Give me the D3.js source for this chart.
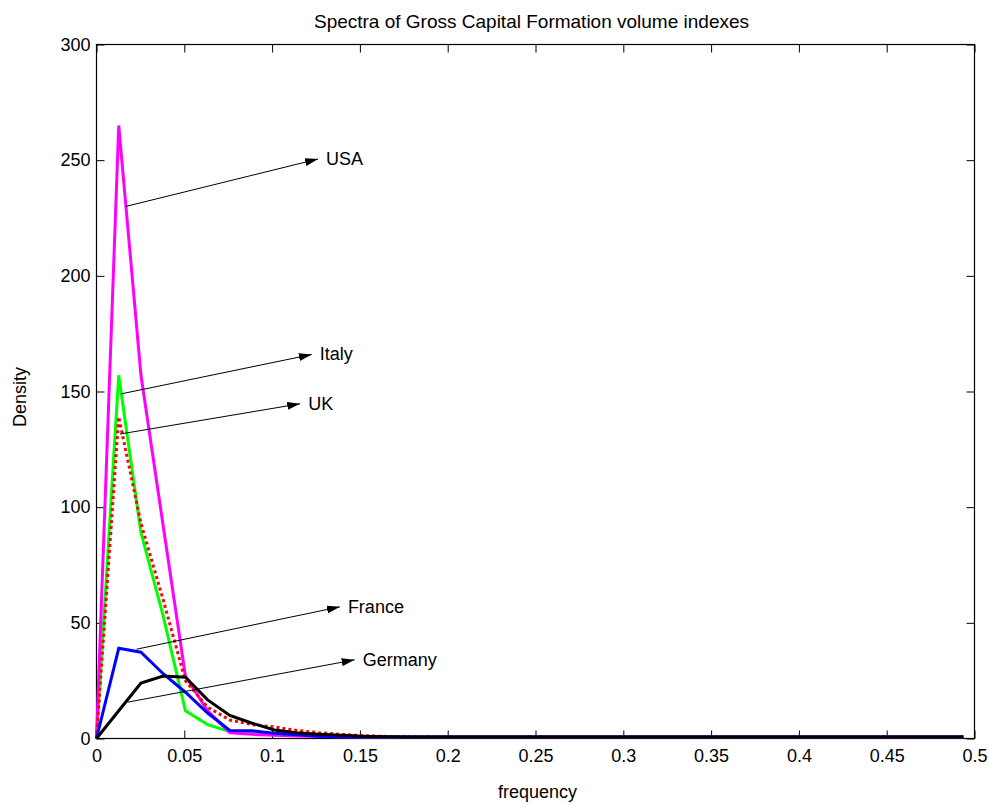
<!DOCTYPE html>
<meta charset="utf-8" />
<script src="https://d3js.org/d3.v7.min.js"></script>
<div id="chart"></div>
<script>
  // frequencies (k/79) and spectral densities
  const freq = [
    0, 0.01266, 0.02532, 0.03797, 0.05063, 0.06329, 0.07595, 0.08861, 0.10127, 0.11392,
    0.12658, 0.13924, 0.1519, 0.16456, 0.17722, 0.18987, 0.20253, 0.21519, 0.22785, 0.24051,
    0.25316, 0.26582, 0.27848, 0.29114, 0.3038, 0.31646, 0.32911, 0.34177, 0.35443, 0.36709,
    0.37975, 0.39241, 0.40506, 0.41772, 0.43038, 0.44304, 0.4557, 0.46835, 0.48101, 0.49367
  ];
  const usa = [
    0, 265, 157, 92, 27, 12, 2.5, 1.8, 1.4, 1.1,
    0.9, 0.8, 0.7, 0.7, 0.6, 0.6, 0.6, 0.6, 0.6, 0.6,
    0.6, 0.6, 0.6, 0.6, 0.6, 0.6, 0.6, 0.6, 0.6, 0.6,
    0.6, 0.6, 0.6, 0.6, 0.6, 0.6, 0.6, 0.6, 0.6, 0.6
  ];
  const italy = [
    0, 157, 89, 53, 12, 6, 3, 2.2, 1.8, 1.5,
    1.2, 1.0, 0.9, 0.8, 0.7, 0.7, 0.7, 0.7, 0.6, 0.6,
    0.6, 0.6, 0.6, 0.6, 0.6, 0.6, 0.6, 0.6, 0.6, 0.6,
    0.6, 0.6, 0.6, 0.6, 0.6, 0.6, 0.6, 0.6, 0.6, 0.6
  ];
  const uk = [
    0, 139, 93, 60, 25, 13.5, 8, 6, 5, 3.5,
    2.5, 1.8, 1.2, 0.9, 0.8, 0.7, 0.7, 0.7, 0.6, 0.6,
    0.6, 0.6, 0.6, 0.6, 0.6, 0.6, 0.6, 0.6, 0.6, 0.6,
    0.6, 0.6, 0.6, 0.6, 0.6, 0.6, 0.6, 0.6, 0.6, 0.6
  ];
  const france = [
    0, 39, 37.3, 28, 20, 11, 3.5, 3.3, 2.3, 1.6,
    1.0, 0.8, 0.7, 0.7, 0.7, 0.7, 0.7, 0.7, 0.7, 0.7,
    0.7, 0.7, 0.7, 0.7, 0.7, 0.7, 0.7, 0.7, 0.7, 0.7,
    0.7, 0.7, 0.7, 0.7, 0.7, 0.7, 0.7, 0.7, 0.7, 0.7
  ];
  const germany = [
    0, 12, 24, 27, 26.5, 16.7, 10, 6.6, 3.7, 2.5,
    1.8, 1.4, 1.0, 0.8, 0.7, 0.7, 0.7, 0.7, 0.7, 0.7,
    0.7, 0.7, 0.7, 0.7, 0.7, 0.7, 0.7, 0.7, 0.7, 0.7,
    0.7, 0.7, 0.7, 0.7, 0.7, 0.7, 0.7, 0.7, 0.7, 0.7
  ];

  const xTicks = [0, 0.05, 0.1, 0.15, 0.2, 0.25, 0.3, 0.35, 0.4, 0.45, 0.5];
  const xTickLabels = ["0", "0.05", "0.1", "0.15", "0.2", "0.25", "0.3", "0.35", "0.4", "0.45", "0.5"];
  const yTicks = [0, 50, 100, 150, 200, 250, 300];

  // annotation arrows: label, tail (x, y) and head (x, y) in data units
  const notes = [
    ["USA", 0.0167, 230, 0.1262, 250.5],
    ["Italy", 0.0142, 149, 0.1226, 166],
    ["UK", 0.0133, 131.6, 0.1160, 144.7],
    ["France", 0.0228, 38.6, 0.1386, 56.9],
    ["Germany", 0.0177, 15.7, 0.1470, 34]
  ];

  const W = 990, H = 803;
  const margin = { top: 44.5, right: 15.5, bottom: 64.5, left: 96.5 };
  const width = W - margin.left - margin.right,
    height = H - margin.top - margin.bottom;
  const font = "'Liberation Sans', Arial, sans-serif";

  const svg = d3
    .select("#chart")
    .append("svg")
    .attr("width", W)
    .attr("height", H)
    .style("background", "#fff")
    .style("font-family", font);

  const g = svg.append("g").attr("transform", `translate(${margin.left}, ${margin.top})`);

  const x = d3.scaleLinear().domain([0, 0.5]).range([0, width]);
  const y = d3.scaleLinear().domain([0, 300]).range([height, 0]);

  // axes (ticks pointing inward, box on all four sides)
  const styleAxis = (sel) => {
    sel.select(".domain").remove();
    sel.selectAll(".tick line").attr("stroke", "#000");
    sel.selectAll("text").attr("fill", "#000").style("font-size", "18px").style("font-family", font);
  };
  g.append("g")
    .attr("transform", `translate(0, ${height})`)
    .call(d3.axisBottom(x).tickValues(xTicks).tickSize(-8).tickPadding(11)
      .tickFormat((d, i) => xTickLabels[i]))
    .call(styleAxis);
  g.append("g")
    .call(d3.axisTop(x).tickValues(xTicks).tickSize(-8).tickFormat(""))
    .call(styleAxis);
  g.append("g")
    .call(d3.axisLeft(y).tickValues(yTicks).tickSize(-8).tickPadding(6))
    .call(styleAxis);
  g.append("g")
    .attr("transform", `translate(${width}, 0)`)
    .call(d3.axisRight(y).tickValues(yTicks).tickSize(-8).tickFormat(""))
    .call(styleAxis);
  g.append("rect")
    .attr("width", width)
    .attr("height", height)
    .attr("fill", "none")
    .attr("stroke", "#000")
    .attr("stroke-width", 1.2);

  // spectra
  const series = [
    { values: italy, color: "#00ff00", dash: null },
    { values: usa, color: "#ff00ff", dash: null },
    { values: uk, color: "#ff0000", dash: "3,3" },
    { values: france, color: "#0000ff", dash: null },
    { values: germany, color: "#000000", dash: null }
  ];
  const line = d3.line().x((d, i) => x(freq[i])).y((d) => y(d));
  g.selectAll(".spec")
    .data(series)
    .join("path")
    .attr("class", "spec")
    .attr("d", (d) => line(d.values))
    .attr("fill", "none")
    .attr("stroke", (d) => d.color)
    .attr("stroke-width", 3)
    .attr("stroke-dasharray", (d) => d.dash)
    .attr("stroke-linejoin", "miter");

  // arrows
  svg.append("defs")
    .append("marker")
    .attr("id", "head")
    .attr("viewBox", "0 0 13 8")
    .attr("refX", 13)
    .attr("refY", 4)
    .attr("markerWidth", 13)
    .attr("markerHeight", 8)
    .attr("markerUnits", "userSpaceOnUse")
    .attr("orient", "auto")
    .append("path")
    .attr("d", "M0,0 L13,4 L0,8 Z")
    .attr("fill", "#000");

  const ann = g.selectAll(".note").data(notes).join("g").attr("class", "note");
  ann.append("line")
    .attr("x1", (d) => x(d[1]))
    .attr("y1", (d) => y(d[2]))
    .attr("x2", (d) => x(d[3]))
    .attr("y2", (d) => y(d[4]))
    .attr("stroke", "#000")
    .attr("stroke-width", 1)
    .attr("marker-end", "url(#head)");
  ann.append("text")
    .attr("x", (d) => x(d[3]) + 8)
    .attr("y", (d) => y(d[4]) + 6)
    .style("font-size", "18px")
    .attr("fill", "#000")
    .text((d) => d[0]);

  // title and axis labels
  svg.append("text")
    .attr("x", margin.left + width / 2 - 4)
    .attr("y", 28)
    .attr("text-anchor", "middle")
    .style("font-size", "19px")
    .text("Spectra of Gross Capital Formation volume indexes");
  svg.append("text")
    .attr("x", margin.left + width / 2 + 2)
    .attr("y", 798)
    .attr("text-anchor", "middle")
    .style("font-size", "18px")
    .text("frequency");
  svg.append("text")
    .attr("transform", "translate(26, 397) rotate(-90)")
    .attr("text-anchor", "middle")
    .style("font-size", "18px")
    .text("Density");
</script>
<style>
  body { margin: 0; background: #fff; }
</style>
